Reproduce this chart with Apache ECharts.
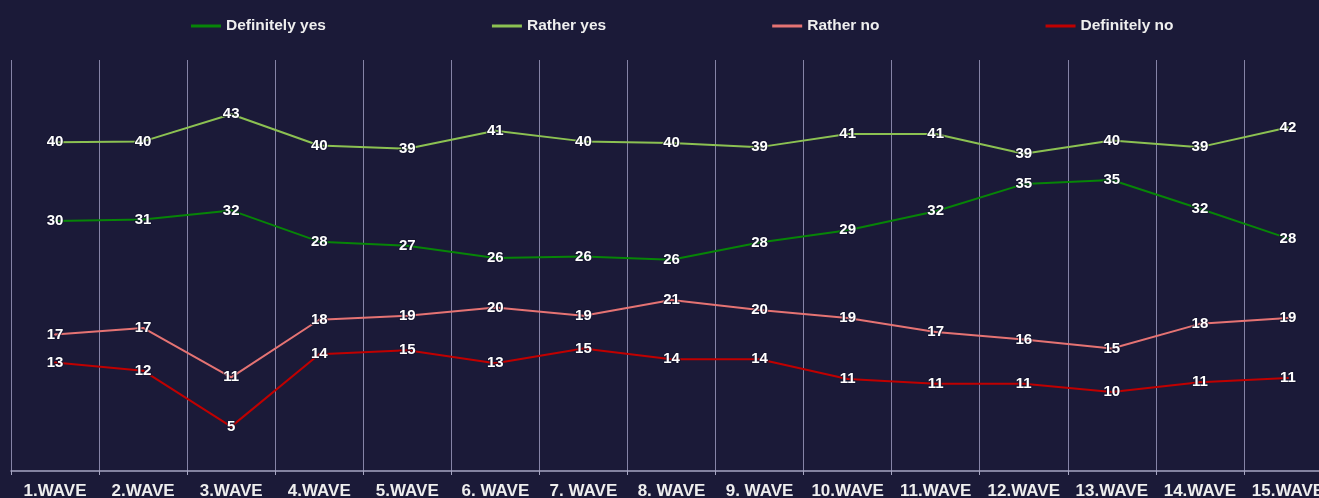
<!DOCTYPE html>
<html>
<head>
<meta charset="utf-8">
<script src="https://cdn.jsdelivr.net/npm/echarts@6/dist/echarts.min.js"></script>
<style>
  html, body { margin: 0; padding: 0; background: #1b1a38; }
  #chart { width: 1319px; height: 498px; }
</style>
</head>
<body>
<div id="chart"></div>
<script>
// Survey waves along the x axis
const waves = ['1.WAVE', '2.WAVE', '3.WAVE', '4.WAVE', '5.WAVE', '6. WAVE', '7. WAVE', '8. WAVE',
  '9. WAVE', '10.WAVE', '11.WAVE', '12.WAVE', '13.WAVE', '14.WAVE', '15.WAVE'];

// Share of answers per wave (%)
const definitelyYes = [30.4, 30.6, 31.7, 27.9, 27.4, 25.9, 26.1, 25.7, 27.8, 29.3, 31.6, 34.9, 35.4, 31.9, 28.3];
const ratherYes = [40.0, 40.1, 43.4, 39.6, 39.2, 41.4, 40.1, 39.9, 39.4, 41.0, 41.0, 38.6, 40.2, 39.4, 41.8];
const ratherNo = [16.6, 17.4, 11.4, 18.4, 18.9, 19.9, 18.9, 20.8, 19.6, 18.6, 16.9, 16.0, 14.9, 17.9, 18.6];
const definitelyNo = [13.2, 12.2, 5.4, 14.2, 14.7, 13.1, 14.9, 13.6, 13.6, 11.2, 10.6, 10.6, 9.6, 10.8, 11.3];

const seriesNames = ['Definitely yes', 'Rather yes', 'Rather no', 'Definitely no'];
const seriesColors = ['#078507', '#8cc152', '#e57373', '#c00000'];
const seriesData = [definitelyYes, ratherYes, ratherNo, definitelyNo];

const FONT = '"Liberation Sans", Arial, sans-serif';

const chart = echarts.init(document.getElementById('chart'));
chart.setOption({
  backgroundColor: '#1b1a38',
  animation: false,
  legend: {
    top: 18,
    left: 191,
    padding: 0,
    itemGap: 166,
    itemWidth: 30,
    itemHeight: 3,
    icon: 'rect',
    textStyle: { color: '#eeeeee', fontSize: 15.5, fontWeight: 'bold', fontFamily: FONT },
    data: seriesNames
  },
  // the plot runs a little past the right edge of the page
  grid: { left: 11, top: 60, bottom: 27, right: -13, outerBoundsMode: 'none', containLabel: false },
  xAxis: {
    type: 'category',
    data: waves,
    boundaryGap: true,
    axisLine: { lineStyle: { color: '#a8a7c4', width: 1.5 } },
    axisTick: { show: true, length: 4, lineStyle: { color: '#a8a7c4' } },
    splitLine: { show: true, lineStyle: { color: '#8583a6', width: 1 } },
    axisLabel: {
      color: '#eeeeee', fontSize: 17, fontWeight: 'bold', fontFamily: FONT,
      margin: 12, interval: 0
    }
  },
  yAxis: {
    type: 'value',
    min: 0,
    max: 50,
    show: false,
    splitLine: { show: false }
  },
  series: seriesData.map((d, i) => ({
    name: seriesNames[i],
    type: 'line',
    data: d,
    color: seriesColors[i],
    lineStyle: { width: 2, color: seriesColors[i] },
    symbol: 'circle',
    symbolSize: 2,
    itemStyle: { color: seriesColors[i] },
    label: {
      show: true,
      position: 'inside',
      color: '#ffffff',
      fontSize: 15,
      fontWeight: 'bold',
      fontFamily: FONT,
      textBorderColor: 'rgba(20,20,45,0.7)',
      textBorderWidth: 2,
      formatter: p => Math.round(p.value)
    }
  }))
});
</script>
</body>
</html>
